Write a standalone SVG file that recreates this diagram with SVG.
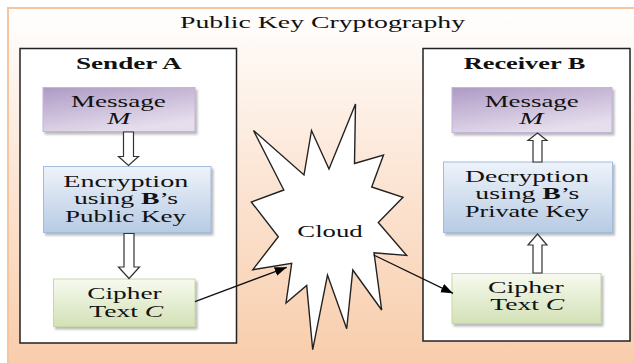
<svg xmlns="http://www.w3.org/2000/svg" width="634" height="363" viewBox="0 0 634 363">
<defs>
<linearGradient id="bg" x1="0" y1="0" x2="0" y2="1">
<stop offset="0" stop-color="#FFFFFF"/>
<stop offset="0.45" stop-color="#FCE6D6"/>
<stop offset="1" stop-color="#F8CCAA"/>
</linearGradient>
<linearGradient id="gPurple" x1="0" y1="0" x2="0.5" y2="1">
<stop offset="0" stop-color="#AE9AC5"/>
<stop offset="1" stop-color="#E6DEED"/>
</linearGradient>
<linearGradient id="gBlue" x1="0" y1="0" x2="0" y2="1">
<stop offset="0" stop-color="#EEF3FA"/>
<stop offset="1" stop-color="#B7CBE4"/>
</linearGradient>
<linearGradient id="gGreen" x1="0" y1="0" x2="0" y2="1">
<stop offset="0" stop-color="#F7FAF0"/>
<stop offset="1" stop-color="#D3E1B6"/>
</linearGradient>
<filter id="sh" x="-10%" y="-10%" width="125%" height="135%">
<feDropShadow dx="2" dy="2.5" stdDeviation="1.2" flood-color="#808080" flood-opacity="0.55"/>
</filter>
<marker id="ah" markerUnits="userSpaceOnUse" markerWidth="14" markerHeight="10" refX="12" refY="5" orient="auto">
<path d="M0,0.5 L12,5 L0,9.5 Z" fill="#000"/>
</marker>
<style>
text{font-family:"Liberation Serif","DejaVu Serif","Noto Serif","Times New Roman",serif;font-size:16px;fill:#111;}
.b{font-weight:bold;}
.i{font-style:italic;}
.frame{fill:#FFFFFF;stroke:#222;stroke-width:1.5;}
.purple{fill:url(#gPurple);stroke:#C4B5D6;stroke-width:1;filter:url(#sh);}
.blue{fill:url(#gBlue);stroke:#A3BCDD;stroke-width:1;filter:url(#sh);}
.green{fill:url(#gGreen);stroke:#C6D9A3;stroke-width:1;filter:url(#sh);}
.block{fill:#FFFFFF;stroke:#333;stroke-width:1.2;stroke-linejoin:miter;}
.conn{stroke:#111;stroke-width:1.3;fill:none;marker-end:url(#ah);}
.star{fill:#FFFFFF;stroke:#222;stroke-width:1.4;stroke-linejoin:miter;}
</style>
</defs>

<rect x="8" y="8" width="632" height="362" fill="url(#bg)" stroke="#F7C49E" stroke-width="2"/>
<text x="180" y="28.3" textLength="285" lengthAdjust="spacingAndGlyphs" font-family="Liberation Serif, DejaVu Serif, serif">Public Key Cryptography</text>

<g id="senderA">
<rect class="frame" x="20" y="48.5" width="216.5" height="294.5"/>
<text class="b" x="76" y="69" textLength="105.7" lengthAdjust="spacingAndGlyphs">Sender A</text>
</g>

<g id="receiverB">
<rect class="frame" x="423" y="48.5" width="207" height="292.5"/>
<text class="b" x="463.7" y="69" textLength="121.7" lengthAdjust="spacingAndGlyphs">Receiver B</text>
</g>

<g id="senderMessage">
<rect class="purple" x="43" y="87.5" width="152" height="44"/>
<text x="71" y="107.3" textLength="94.7" lengthAdjust="spacingAndGlyphs">Message</text>
<text class="i" x="107.3" y="124" textLength="23" lengthAdjust="spacingAndGlyphs">M</text>
</g>

<g id="encryption">
<rect class="blue" x="43.5" y="166.5" width="167.5" height="66"/>
<text x="63.3" y="186.7" textLength="125" lengthAdjust="spacingAndGlyphs">Encryption</text>
<text x="74" y="204" textLength="104" lengthAdjust="spacingAndGlyphs">using <tspan class="b">B</tspan>’s</text>
<text x="65" y="221.7" textLength="121" lengthAdjust="spacingAndGlyphs">Public Key</text>
</g>

<g id="senderCipher">
<rect class="green" x="53.5" y="279" width="141.5" height="47.5"/>
<text x="87.3" y="299.3" textLength="74.3" lengthAdjust="spacingAndGlyphs">Cipher</text>
<text x="89.3" y="316.7" textLength="74" lengthAdjust="spacingAndGlyphs">Text <tspan class="i">C</tspan></text>
</g>

<g id="cloud">
<polygon class="star" points="253.5,130.5 304,175 311.5,130.5 329,169 355.5,104 354.5,163.5 383.5,155 371.7,187 403,197.3 378.3,222.5 406.7,255.5 374,252.7 381.7,310 352.8,270 346.7,328.7 327.5,275 312.7,349.7 306.7,285.5 286,303 291.7,263.3 252.8,269.7 278.3,236.7 251.3,202 283.8,190"/>
<text x="297.3" y="237.3" textLength="65.4" lengthAdjust="spacingAndGlyphs">Cloud</text>
</g>

<g id="receiverMessage">
<rect class="purple" x="452" y="87.5" width="160" height="45"/>
<text x="484.7" y="107.3" textLength="94" lengthAdjust="spacingAndGlyphs">Message</text>
<text class="i" x="519.3" y="124" textLength="24" lengthAdjust="spacingAndGlyphs">M</text>
</g>

<g id="decryption">
<rect class="blue" x="443.5" y="162" width="169" height="70.5"/>
<text x="465" y="181.7" textLength="124" lengthAdjust="spacingAndGlyphs">Decryption</text>
<text x="475.3" y="199" textLength="104" lengthAdjust="spacingAndGlyphs">using <tspan class="b">B</tspan>’s</text>
<text x="465" y="216.7" textLength="124" lengthAdjust="spacingAndGlyphs">Private Key</text>
</g>

<g id="receiverCipher">
<rect class="green" x="452" y="273.5" width="149" height="50"/>
<text x="488" y="293.3" textLength="75.7" lengthAdjust="spacingAndGlyphs">Cipher</text>
<text x="490.3" y="310" textLength="74" lengthAdjust="spacingAndGlyphs">Text <tspan class="i">C</tspan></text>
</g>

<g id="connectors">
<polygon class="block" points="123.5,132 133.5,132 133.5,156.5 138.5,156.5 128.5,165.5 118.5,156.5 123.5,156.5"/>
<polygon class="block" points="124,233.5 134,233.5 134,267 139.5,267 129,278.5 118.5,267 124,267"/>
<polygon class="block" points="533,162 542,162 542,140.5 547,140.5 537.5,133 528,140.5 533,140.5"/>
<polygon class="block" points="533,273 542,273 542,245 547,245 537.5,234 528,245 533,245"/>
<line class="conn" x1="195" y1="301.7" x2="286.7" y2="267.3"/>
<line class="conn" x1="373.7" y1="255" x2="453" y2="293.3"/>
</g>
</svg>
